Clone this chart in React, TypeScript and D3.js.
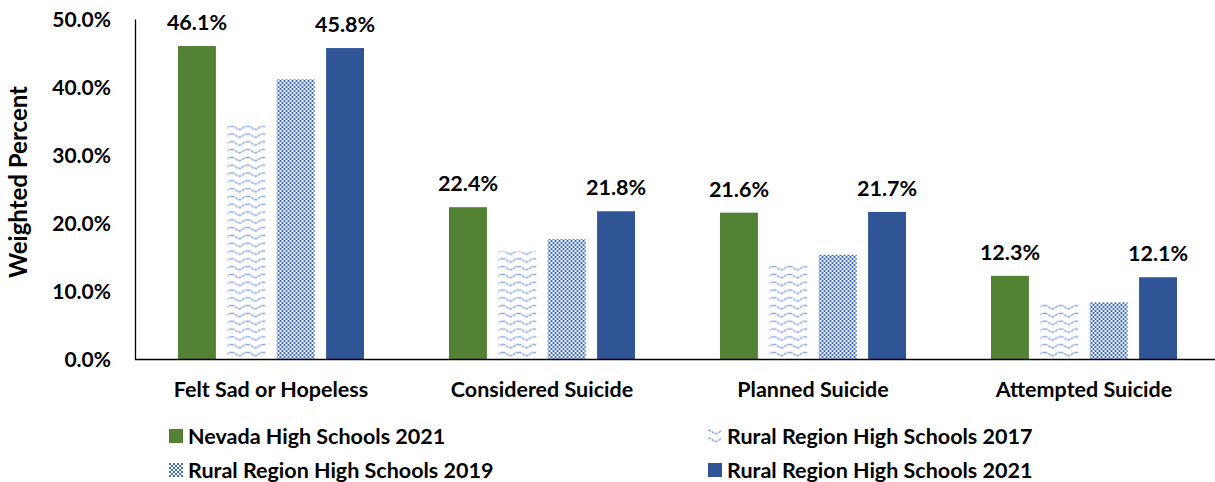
import React from "react";
import * as d3 from "d3";

const categories = ["Felt Sad or Hopeless", "Considered Suicide", "Planned Suicide", "Attempted Suicide"];
const seriesNames = [
  "Nevada High Schools 2021",
  "Rural Region High Schools 2017",
  "Rural Region High Schools 2019",
  "Rural Region High Schools 2021",
];
const nevada2021 = [46.1, 22.4, 21.6, 12.3];
const rural2017 = [34.4, 15.9, 13.8, 8.2];
const rural2019 = [41.2, 17.7, 15.4, 8.4];
const rural2021 = [45.8, 21.8, 21.7, 12.1];
const yTicks = [0, 10, 20, 30, 40, 50];
const labelledSeries = [0, 3];

const W = 1215;
const H = 482;
const FONT = "Lato, 'Open Sans', sans-serif";
const FS = 21.5;

export default function App() {
  const values = [nevada2021, rural2017, rural2019, rural2021];
  const fills = ["#548235", "url(#wave)", "url(#checker)", "#2f5597"];

  const x0 = d3.scaleBand<string>().domain(categories).range([135.5, 1219.5]).paddingInner(0).paddingOuter(0);
  const x1 = d3
    .scaleBand<number>()
    .domain([0, 1, 2, 3])
    .range([42.5, x0.bandwidth() - 42.5])
    .paddingInner(0.232);
  const y = d3.scaleLinear().domain([0, 50]).range([359.5, 19.5]);

  const legendPos = [
    { x: 169, y: 429 },
    { x: 708, y: 429 },
    { x: 169, y: 463 },
    { x: 708, y: 463 },
  ];

  return (
    <svg
      width={W}
      height={H}
      style={{ position: "absolute", left: 0, top: 0, background: "#fff" }}
      fontFamily={FONT}
    >
      <defs>
        <pattern id="wave" patternUnits="userSpaceOnUse" width={16} height={7.8}>
          <rect width={16} height={7.8} fill="#fff" />
          <path
            d="M0,1.5 L3,1.5 L6,4.5 L10,4.5 L13,1.5 L16,1.5"
            fill="none"
            stroke="#8eaadb"
            strokeWidth={1.5}
            strokeDasharray="3 1"
          />
        </pattern>
        <pattern id="checker" patternUnits="userSpaceOnUse" width={4} height={4}>
          <rect width={4} height={4} fill="#fff" />
          <rect x={0} y={0} width={2} height={2} fill="#3f6dc4" />
          <rect x={2} y={2} width={2} height={2} fill="#3f6dc4" />
        </pattern>
      </defs>

      {/* bars */}
      {categories.map((c, ci) => (
        <g key={c} transform={`translate(${x0(c)},0)`}>
          {values.map((vals, si) => (
            <rect
              key={si}
              x={x1(si)}
              y={y(vals[ci])}
              width={x1.bandwidth()}
              height={y(0) - y(vals[ci])}
              fill={fills[si]}
            />
          ))}
          {labelledSeries.map((si) => (
            <text
              key={"l" + si}
              x={(x1(si) as number) + x1.bandwidth() / 2}
              y={y(values[si][ci]) - 16}
              textAnchor="middle"
              fontSize={FS}
              fontWeight={700}
              fill="#000"
            >
              {values[si][ci].toFixed(1)}%
            </text>
          ))}
        </g>
      ))}

      {/* axes */}
      <line x1={135.5} x2={135.5} y1={y(50)} y2={y(0)} stroke="#000" strokeWidth={1.3} />
      <line x1={135} x2={W} y1={y(0)} y2={y(0)} stroke="#000" strokeWidth={1.3} />

      {yTicks.map((t) => (
        <text
          key={t}
          x={111}
          y={y(t)}
          dy="0.35em"
          textAnchor="end"
          fontSize={21}
          fontWeight={700}
          fill="#000"
        >
          {t.toFixed(1)}%
        </text>
      ))}

      <text
        transform="translate(27,182) rotate(-90)"
        textAnchor="middle"
        fontSize={24}
        fontWeight={700}
        fill="#000"
      >
        Weighted Percent
      </text>

      {categories.map((c) => (
        <text
          key={c}
          x={(x0(c) as number) + x0.bandwidth() / 2}
          y={397}
          textAnchor="middle"
          fontSize={FS}
          fontWeight={700}
          fill="#000"
        >
          {c}
        </text>
      ))}

      {/* legend */}
      {seriesNames.map((name, si) => (
        <g key={name} transform={`translate(${legendPos[si].x},${legendPos[si].y})`}>
          <rect width={14} height={14} fill={fills[si]} />
          <text x={19} y={7} dy="0.35em" fontSize={FS} fontWeight={700} fill="#000">
            {name}
          </text>
        </g>
      ))}
    </svg>
  );
}
